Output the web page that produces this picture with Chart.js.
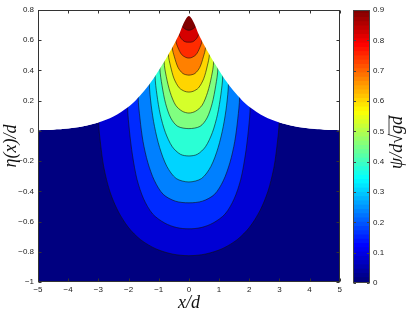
<!DOCTYPE html>
<html>
<head>
<meta charset="utf-8">
<script src="https://cdn.jsdelivr.net/npm/chart.js@4"></script>
<style>
  html, body { margin: 0; padding: 0; background: #fff; }
  #wrap { position: relative; width: 407px; height: 312px; }
  #main { position: absolute; left: 0; top: 0; }
  #cbar { position: absolute; left: 345px; top: 0; }
</style>
</head>
<body>
<div id="wrap">
  <canvas id="main" width="345" height="312"></canvas>
  <canvas id="cbar" width="62" height="312"></canvas>
</div>
<script>
// free surface eta(x)/d
var surfX = [-5, -4.5, -4, -3.5, -3, -2.5, -2, -1.75, -1.5, -1.25, -1, -0.75, -0.5, -0.3, -0.2, -0.1, 0,
             0.1, 0.2, 0.3, 0.5, 0.75, 1, 1.25, 1.5, 1.75, 2, 2.5, 3, 3.5, 4, 4.5, 5];
var surfY = [0.005, 0.008, 0.015, 0.03, 0.055, 0.095, 0.16, 0.205, 0.26, 0.325, 0.40, 0.48, 0.57, 0.65, 0.70, 0.74, 0.76,
             0.74, 0.70, 0.65, 0.57, 0.48, 0.40, 0.325, 0.26, 0.205, 0.16, 0.095, 0.055, 0.03, 0.015, 0.008, 0.005];

// contour levels of psi/(d sqrt(gd))
var levels = [0.075, 0.15, 0.225, 0.3, 0.375, 0.45, 0.525, 0.6, 0.675, 0.75, 0.825, 0.9];

// contour lines, one per level (x/d and y/d)
var contourX = [
  [-2.99, -2.93, -2.82, -2.62, -2.35, -2.0, -1.6, -1.1, -0.55, 0, 0.55, 1.1, 1.6, 2.0, 2.35, 2.62, 2.82, 2.93, 2.99],
  [-2.03, -1.97, -1.87, -1.72, -1.5, -1.2, -0.8, -0.4, 0, 0.4, 0.8, 1.2, 1.5, 1.72, 1.87, 1.97, 2.03],
  [-1.68, -1.62, -1.52, -1.36, -1.14, -0.85, -0.45, 0, 0.45, 0.85, 1.14, 1.36, 1.52, 1.62, 1.68],
  [-1.31, -1.25, -1.14, -0.97, -0.73, -0.42, 0, 0.42, 0.73, 0.97, 1.14, 1.25, 1.31],
  [-1.12, -1.06, -0.95, -0.78, -0.55, -0.28, 0, 0.28, 0.55, 0.78, 0.95, 1.06, 1.12],
  [-0.96, -0.89, -0.77, -0.6, -0.37, 0, 0.37, 0.6, 0.77, 0.89, 0.96],
  [-0.82, -0.75, -0.62, -0.44, -0.22, 0, 0.22, 0.44, 0.62, 0.75, 0.82],
  [-0.68, -0.61, -0.49, -0.32, -0.14, 0, 0.14, 0.32, 0.49, 0.61, 0.68],
  [-0.55, -0.48, -0.36, -0.2, 0, 0.2, 0.36, 0.48, 0.55],
  [-0.43, -0.36, -0.24, -0.1, 0, 0.1, 0.24, 0.36, 0.43],
  [-0.32, -0.25, -0.13, 0, 0.13, 0.25, 0.32],
  [-0.21, -0.14, -0.06, 0, 0.06, 0.14, 0.21]
];
var contourY = [
  [0.055, -0.08, -0.24, -0.40, -0.53, -0.64, -0.72, -0.78, -0.815, -0.826, -0.815, -0.78, -0.72, -0.64, -0.53, -0.40, -0.24, -0.08, 0.055],
  [0.155, 0.0, -0.16, -0.32, -0.45, -0.55, -0.61, -0.64, -0.648, -0.64, -0.61, -0.55, -0.45, -0.32, -0.16, 0.0, 0.155],
  [0.22, 0.08, -0.07, -0.21, -0.33, -0.42, -0.465, -0.476, -0.465, -0.42, -0.33, -0.21, -0.07, 0.08, 0.22],
  [0.31, 0.17, 0.03, -0.11, -0.235, -0.315, -0.338, -0.315, -0.235, -0.11, 0.03, 0.17, 0.31],
  [0.36, 0.24, 0.11, -0.01, -0.105, -0.155, -0.166, -0.155, -0.105, -0.01, 0.11, 0.24, 0.36],
  [0.41, 0.30, 0.18, 0.085, 0.03, 0.015, 0.03, 0.085, 0.18, 0.30, 0.41],
  [0.455, 0.36, 0.255, 0.17, 0.13, 0.118, 0.13, 0.17, 0.255, 0.36, 0.455],
  [0.505, 0.43, 0.345, 0.285, 0.262, 0.257, 0.262, 0.285, 0.345, 0.43, 0.505],
  [0.55, 0.49, 0.42, 0.38, 0.369, 0.38, 0.42, 0.49, 0.55],
  [0.595, 0.55, 0.505, 0.486, 0.482, 0.486, 0.505, 0.55, 0.595],
  [0.64, 0.61, 0.59, 0.587, 0.59, 0.61, 0.64],
  [0.69, 0.676, 0.668, 0.666, 0.668, 0.676, 0.69]
];

var xTicks = [-5, -4, -3, -2, -1, 0, 1, 2, 3, 4, 5];
var yTicks = [-1, -0.8, -0.6, -0.4, -0.2, 0, 0.2, 0.4, 0.6, 0.8];
var cTicks = [0, 0.1, 0.2, 0.3, 0.4, 0.5, 0.6, 0.7, 0.8, 0.9];
var cMin = 0, cMax = 0.9;

// matlab jet colormap
function jet(t) {
  var c = function (v) { return Math.round(255 * Math.max(0, Math.min(1, v))); };
  return 'rgb(' + c(1.5 - Math.abs(4 * t - 3)) + ',' + c(1.5 - Math.abs(4 * t - 2)) + ',' + c(1.5 - Math.abs(4 * t - 1)) + ')';
}

function fmt(v) {
  var r = Math.round(v * 10) / 10;
  return (r < 0 ? '\u2212' : '') + Math.abs(r);
}

var tickFont = { family: 'Liberation Sans', size: 8 };
var titleFont = { family: 'Liberation Serif', style: 'italic', size: 18 };
var yMax = yTicks[yTicks.length - 1];

var surfPts = surfX.map(function (x, i) { return { x: x, y: surfY[i] }; });

var datasets = [];
// water below the surface, lowest band
datasets.push({ data: surfPts, fill: 'start', backgroundColor: jet(0), borderWidth: 0, pointRadius: 0, tension: 0.3, order: 100 });
// one filled region per contour level, outer first
levels.forEach(function (lv, i) {
  var xs = contourX[i], ys = contourY[i];
  var pts = [{ x: xs[0], y: yMax }];
  xs.forEach(function (x, j) { pts.push({ x: x, y: ys[j] }); });
  pts.push({ x: xs[xs.length - 1], y: yMax });
  datasets.push({
    data: pts, fill: 'shape', backgroundColor: jet((lv - cMin) / (cMax - cMin)),
    borderColor: '#111', borderWidth: 0.6, pointRadius: 0, tension: 0.3, order: 50 - i
  });
});
// air above the surface
datasets.push({ data: surfPts, fill: 'end', backgroundColor: '#fff', borderWidth: 0, pointRadius: 0, tension: 0.3, order: -1 });

var frame = {
  id: 'frame',
  afterDraw: function (chart) {
    var ctx = chart.ctx, a = chart.chartArea, sx = chart.scales.x, sy = chart.scales.y;
    var L = Math.round(a.left) + 0.5, R = Math.round(a.right) - 0.5, T = Math.round(a.top) + 0.5, B = Math.round(a.bottom) - 0.5;
    ctx.save();
    ctx.strokeStyle = '#333';
    ctx.lineWidth = 1;
    ctx.strokeRect(L, T, R - L, B - T);
    ctx.beginPath();
    xTicks.forEach(function (v) {
      var p = Math.round(sx.getPixelForValue(v)) + 0.5;
      ctx.moveTo(p, B); ctx.lineTo(p, B - 3);
      ctx.moveTo(p, T); ctx.lineTo(p, T + 3);
    });
    yTicks.forEach(function (v) {
      var p = Math.round(sy.getPixelForValue(v)) + 0.5;
      ctx.moveTo(L, p); ctx.lineTo(L + 3, p);
      ctx.moveTo(R, p); ctx.lineTo(R - 3, p);
    });
    ctx.stroke();
    ctx.restore();
  }
};

new Chart(document.getElementById('main'), {
  type: 'line',
  data: { datasets: datasets },
  options: {
    responsive: false,
    animation: false,
    layout: { padding: { top: 10, right: 4, left: 0, bottom: 0 } },
    plugins: { legend: { display: false }, tooltip: { enabled: false } },
    scales: {
      x: {
        type: 'linear', min: -5, max: 5,
        afterBuildTicks: function (s) { s.ticks = xTicks.map(function (v) { return { value: v }; }); },
        ticks: { font: tickFont, color: '#222', padding: 3, maxRotation: 0, callback: fmt },
        grid: { display: false, drawTicks: false },
        border: { display: false },
        title: { display: true, text: 'x/d', font: titleFont, color: '#111', padding: { top: 0, bottom: -2 } },
        afterFit: function (s) { s.height = 30; }
      },
      y: {
        type: 'linear', min: -1, max: 0.8,
        afterBuildTicks: function (s) { s.ticks = yTicks.map(function (v) { return { value: v }; }); },
        ticks: { font: tickFont, color: '#222', padding: 4, callback: fmt },
        grid: { display: false, drawTicks: false },
        border: { display: false },
        title: { display: true, text: '\u03b7(x)/d', font: titleFont, color: '#111', padding: { top: 0, bottom: 0 } },
        afterFit: function (s) { s.width = 38; }
      }
    }
  },
  plugins: [frame]
});

// colour bar: 64 steps of jet between cMin and cMax
var cbSteps = 64;
var cbDatasets = [];
for (var k = 0; k < cbSteps; k++) {
  var lo = cMin + (cMax - cMin) * k / cbSteps;
  var hi = Math.min(cMax, cMin + (cMax - cMin) * (k + 1) / cbSteps + 0.004);
  cbDatasets.push({
    data: [[lo, hi]], backgroundColor: jet(k / (cbSteps - 1)), borderWidth: 0,
    barPercentage: 1, categoryPercentage: 1, grouped: false
  });
}

var cbFrame = {
  id: 'cbFrame',
  afterDraw: function (chart) {
    var ctx = chart.ctx, a = chart.chartArea, sy = chart.scales.y;
    var L = Math.round(a.left) + 0.5, R = Math.round(a.right) - 0.5, T = Math.round(a.top) + 0.5, B = Math.round(a.bottom) - 0.5;
    ctx.save();
    ctx.strokeStyle = '#444';
    ctx.lineWidth = 1;
    ctx.strokeRect(L, T, R - L, B - T);
    ctx.beginPath();
    cTicks.forEach(function (v) {
      var p = Math.round(sy.getPixelForValue(v)) + 0.5;
      ctx.moveTo(L, p); ctx.lineTo(L + 2.5, p);
      ctx.moveTo(R, p); ctx.lineTo(R - 2.5, p);
    });
    ctx.stroke();
    // axis label psi/(d sqrt(gd)), reading bottom to top
    ctx.translate(chart.width - 10, (a.top + a.bottom) / 2 - 4);
    ctx.rotate(-Math.PI / 2);
    ctx.font = 'italic 18px "Liberation Serif"';
    ctx.fillStyle = '#111';
    ctx.textBaseline = 'middle';
    ctx.textAlign = 'left';
    var t1 = '\u03c8/d\u221a', t2 = 'gd';
    var w1 = ctx.measureText(t1).width, w2 = ctx.measureText(t2).width;
    var x0 = -(w1 + w2) / 2;
    ctx.fillText(t1, x0, 0);
    ctx.fillText(t2, x0 + w1, 0);
    ctx.beginPath();
    ctx.lineWidth = 0.8;
    ctx.strokeStyle = '#111';
    ctx.moveTo(x0 + w1 - 1, -8);
    ctx.lineTo(x0 + w1 + w2 + 1, -8);
    ctx.stroke();
    ctx.restore();
  }
};

new Chart(document.getElementById('cbar'), {
  type: 'bar',
  data: { labels: [''], datasets: cbDatasets },
  options: {
    responsive: false,
    animation: false,
    layout: { padding: { top: 10, right: 0, left: 8, bottom: 29 } },
    plugins: { legend: { display: false }, tooltip: { enabled: false } },
    scales: {
      x: { display: false },
      y: {
        position: 'right', min: cMin, max: cMax,
        afterBuildTicks: function (s) { s.ticks = cTicks.map(function (v) { return { value: v }; }); },
        ticks: { font: tickFont, color: '#222', padding: 3, callback: fmt },
        grid: { display: false, drawTicks: false },
        border: { display: false },
        afterFit: function (s) { s.width = 37; }
      }
    }
  },
  plugins: [cbFrame]
});
</script>
</body>
</html>
